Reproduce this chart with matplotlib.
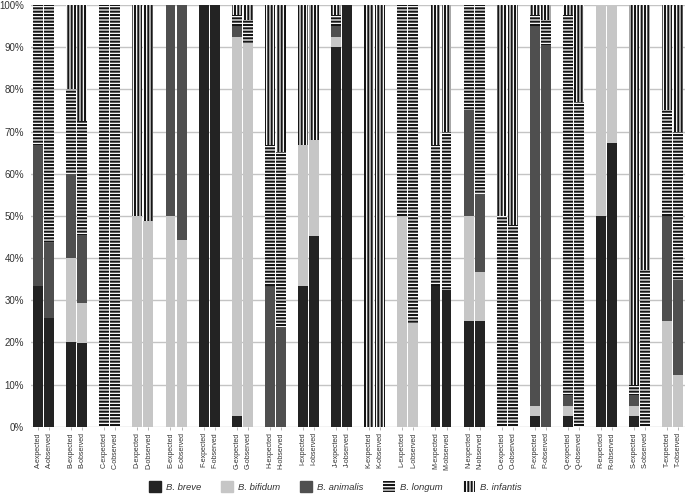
import numpy as np
import matplotlib
matplotlib.use("Agg")
import matplotlib.pyplot as plt
from matplotlib.patches import Patch
from matplotlib.ticker import PercentFormatter

plt.rcParams["font.family"] = ["Liberation Sans", "DejaVu Sans"]
plt.rcParams["hatch.linewidth"] = 1.5

# -----------------------------
# data (percent of each sample)
# -----------------------------
groups = list("ABCDEFGHIJKLMNOPQRST")

breve_exp = [33.3, 20, 0, 0, 0, 100, 2.5, 0, 33.3, 90, 0, 0, 33.3, 25, 0, 2.5, 2.5, 50, 2.5, 0]
breve_obs = [25.8, 19.8, 0, 0, 0, 100, 0, 0, 45.3, 100, 0, 0, 32.5, 25, 0, 0, 0, 67.2, 0, 0]
bifidum_exp = [0, 20, 0, 50, 50, 0, 90, 0, 33.4, 2.5, 0, 50, 0, 25, 0, 2.5, 2.5, 50, 2.5, 25]
bifidum_obs = [0, 9.5, 0, 48.8, 44.3, 0, 91, 0, 22.7, 0, 0, 24.6, 0, 11.8, 0, 0, 0, 32.8, 0, 12.3]
animalis_exp = [33.4, 20, 0, 0, 50, 0, 2.5, 33.3, 0, 2.5, 0, 0, 0, 25, 0, 90, 2.5, 0, 2.5, 25]
animalis_obs = [17.7, 16.2, 0, 0, 55.7, 0, 0, 23.4, 0, 0, 0, 0, 0, 18.5, 0, 90.5, 0, 0, 0, 22.5]
longum_exp = [33.3, 20, 100, 0, 0, 0, 2.5, 33.4, 0, 2.5, 0, 50, 33.4, 25, 50, 2.5, 90, 0, 2.5, 25]
longum_obs = [56.5, 27.1, 100, 0, 0, 0, 5.5, 41.8, 0, 0, 0, 75.4, 37.5, 44.7, 47.9, 6, 77.1, 0, 37.2, 35.2]
infantis_exp = [0, 20, 0, 50, 0, 0, 2.5, 33.3, 33.3, 2.5, 100, 0, 33.3, 0, 50, 2.5, 2.5, 0, 90, 25]
infantis_obs = [0, 27.4, 0, 51.2, 0, 0, 3.5, 34.8, 32, 0, 100, 0, 30, 0, 52.1, 3.5, 22.9, 0, 62.8, 30]

species = [
    ("B. breve", breve_exp, breve_obs, dict(color="#232323")),
    ("B. bifidum", bifidum_exp, bifidum_obs, dict(color="#c6c6c6")),
    ("B. animalis", animalis_exp, animalis_obs, dict(color="#4f4f4f")),
    ("B. longum", longum_exp, longum_obs,
     dict(facecolor="white", edgecolor="#151515", hatch="-----", linewidth=0)),
    ("B. infantis", infantis_exp, infantis_obs,
     dict(facecolor="white", edgecolor="#151515", hatch="|||||", linewidth=0)),
]

# -----------------------------
# plot
# -----------------------------
fig = plt.figure(figsize=(6.85, 4.94), dpi=100)
ax = fig.add_axes([0.045, 0.136, 0.955, 0.854])

x_exp = np.arange(len(groups)) * 3
x_obs = x_exp + 1
width = 0.9

bottom_exp = np.zeros(len(groups))
bottom_obs = np.zeros(len(groups))
handles = []
for name, vexp, vobs, style in species:
    vexp = np.array(vexp, dtype=float)
    vobs = np.array(vobs, dtype=float)
    ax.bar(x_exp, vexp, width, bottom=bottom_exp, zorder=2, **style)
    ax.bar(x_obs, vobs, width, bottom=bottom_obs, zorder=2, **style)
    bottom_exp += vexp
    bottom_obs += vobs
    handles.append(Patch(label=name, **style))

xt = np.ravel(np.column_stack([x_exp, x_obs]))
xl = []
for g in groups:
    xl += [f"{g}-expected", f"{g}-observed"]
ax.set_xticks(xt)
ax.set_xticklabels(xl, rotation=90, fontsize=5, color="#333333")
ax.tick_params(axis="x", length=2, width=0.5, color="#999999", pad=2)

ax.set_ylim(0, 100)
ax.set_xlim(-0.65, 58.6)
ax.set_yticks(np.arange(0, 101, 10))
ax.yaxis.set_major_formatter(PercentFormatter(decimals=0))
ax.tick_params(axis="y", length=0, labelsize=7, labelcolor="#333333", pad=5)
ax.grid(axis="y", color="#c4c4c4", linewidth=1.0, zorder=0)
ax.set_axisbelow(True)
for s in ax.spines.values():
    s.set_visible(False)

leg = fig.legend(handles=handles, loc="center", bbox_to_anchor=(0.489, 0.015),
                 ncol=5, frameon=False, handlelength=1.3, handleheight=1.3,
                 handletextpad=0.5, columnspacing=2.1,
                 prop=dict(size=6.8, style="italic"))
for t in leg.get_texts():
    t.set_color("#333333")

fig.savefig("out.png", dpi=100)
